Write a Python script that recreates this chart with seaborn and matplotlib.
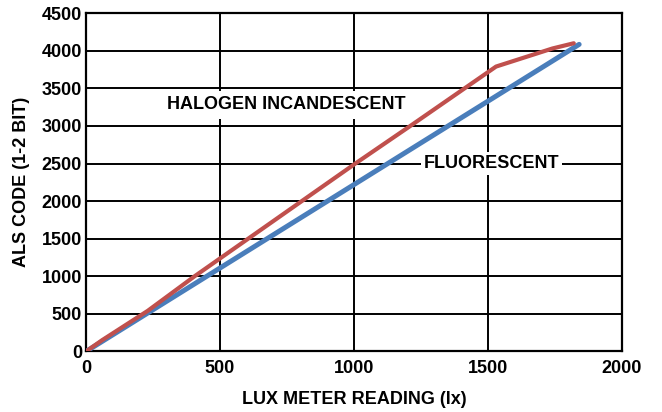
import pandas as pd
import numpy as np
import matplotlib
matplotlib.use("Agg")
import matplotlib.pyplot as plt
import seaborn as sns

# Data
halogen_lux = [0, 60, 230, 405, 605, 805, 1005, 1210, 1530, 1740, 1820]
halogen_code = [0, 150, 540, 1000, 1500, 2000, 2500, 3000, 3790, 4030, 4100]
fluor_lux = [0, 1840]
fluor_code = [0, 4085]

x_ticks = [0, 500, 1000, 1500, 2000]
y_ticks = [0, 500, 1000, 1500, 2000, 2500, 3000, 3500, 4000, 4500]

df = pd.concat([
    pd.DataFrame({"lux": halogen_lux, "code": halogen_code, "source": "HALOGEN INCANDESCENT"}),
    pd.DataFrame({"lux": fluor_lux, "code": fluor_code, "source": "FLUORESCENT"}),
])

sns.set_style("white")
plt.rcParams["font.family"] = ["Liberation Sans", "DejaVu Sans"]
plt.rcParams["font.weight"] = "bold"
plt.rcParams["text.color"] = "black"
plt.rcParams["axes.labelcolor"] = "black"
plt.rcParams["xtick.color"] = "black"
plt.rcParams["ytick.color"] = "black"

fig = plt.figure(figsize=(6.62, 4.12), dpi=100)
ax = fig.add_axes([0.130, 0.147, 0.8096, 0.821])

# Grid first so the lines sit on top of it
for xv in x_ticks[1:-1]:
    ax.axvline(xv, color="black", lw=1.4, zorder=1)
for yv in y_ticks[1:-1]:
    ax.axhline(yv, color="black", lw=1.4, zorder=1)

palette = {"HALOGEN INCANDESCENT": "#C0504D", "FLUORESCENT": "#4A7EBB"}
sns.lineplot(data=df[df.source == "FLUORESCENT"], x="lux", y="code", color=palette["FLUORESCENT"],
             lw=3.6, ax=ax, zorder=3, legend=False)
sns.lineplot(data=df[df.source == "HALOGEN INCANDESCENT"], x="lux", y="code",
             color=palette["HALOGEN INCANDESCENT"], lw=3.0, ax=ax, zorder=4, legend=False)

ax.set_xlim(0, 2000)
ax.set_ylim(0, 4500)
ax.set_xticks(x_ticks)
ax.set_yticks(y_ticks)
ax.tick_params(length=0, labelsize=13, colors="black")
ax.tick_params(axis="x", pad=6)
ax.tick_params(axis="y", pad=3)
for lab in ax.get_xticklabels() + ax.get_yticklabels():
    lab.set_fontweight("bold")

for sp in ax.spines.values():
    sp.set_color("black")
    sp.set_linewidth(1.6)

ax.set_xlabel("LUX METER READING (lx)", fontsize=13, fontweight="bold", labelpad=10, color="black")
ax.set_ylabel("ALS CODE (1-2 BIT)", fontsize=13, fontweight="bold", labelpad=8, color="black")

ax.text(746, 3280, "HALOGEN INCANDESCENT", ha="center", va="center", fontsize=13,
        fontweight="bold", color="black",
        bbox=dict(facecolor="white", edgecolor="none", pad=4), zorder=2)
ax.text(1513, 2500, "FLUORESCENT", ha="center", va="center", fontsize=13,
        fontweight="bold", color="black",
        bbox=dict(facecolor="white", edgecolor="none", pad=2), zorder=2)

plt.savefig("out.png", dpi=100)
